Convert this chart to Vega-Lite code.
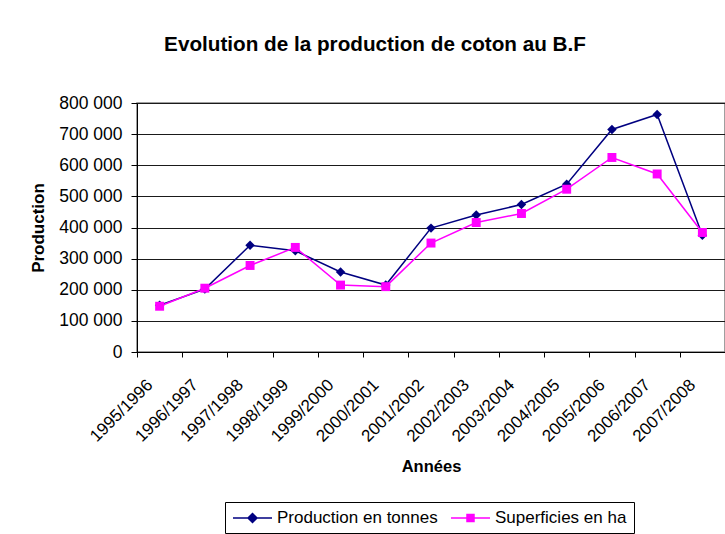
{
  "$schema": "https://vega.github.io/schema/vega-lite/v6.json",
  "autosize": "none",
  "width": 588,
  "height": 249,
  "padding": {"left": 137, "top": 103, "right": 0, "bottom": 182},
  "background": "white",
  "title": {
    "text": "Evolution de la production de coton au B.F",
    "font": "Liberation Sans",
    "fontSize": 20.7,
    "fontWeight": "bold",
    "color": "#000000",
    "anchor": "middle",
    "offset": 38,
    "dx": -56
  },
  "data": {
    "values": [
      {"annee": "1995/1996", "serie": "Production en tonnes", "valeur": 150000},
      {"annee": "1996/1997", "serie": "Production en tonnes", "valeur": 202000},
      {"annee": "1997/1998", "serie": "Production en tonnes", "valeur": 343000},
      {"annee": "1998/1999", "serie": "Production en tonnes", "valeur": 325000},
      {"annee": "1999/2000", "serie": "Production en tonnes", "valeur": 257000},
      {"annee": "2000/2001", "serie": "Production en tonnes", "valeur": 215000},
      {"annee": "2001/2002", "serie": "Production en tonnes", "valeur": 398000},
      {"annee": "2002/2003", "serie": "Production en tonnes", "valeur": 440000},
      {"annee": "2003/2004", "serie": "Production en tonnes", "valeur": 474000},
      {"annee": "2004/2005", "serie": "Production en tonnes", "valeur": 539000},
      {"annee": "2005/2006", "serie": "Production en tonnes", "valeur": 715000},
      {"annee": "2006/2007", "serie": "Production en tonnes", "valeur": 763000},
      {"annee": "2007/2008", "serie": "Production en tonnes", "valeur": 375000},
      {"annee": "1995/1996", "serie": "Superficies en ha", "valeur": 147000},
      {"annee": "1996/1997", "serie": "Superficies en ha", "valeur": 205000},
      {"annee": "1997/1998", "serie": "Superficies en ha", "valeur": 278000},
      {"annee": "1998/1999", "serie": "Superficies en ha", "valeur": 336000},
      {"annee": "1999/2000", "serie": "Superficies en ha", "valeur": 215000},
      {"annee": "2000/2001", "serie": "Superficies en ha", "valeur": 210000},
      {"annee": "2001/2002", "serie": "Superficies en ha", "valeur": 350000},
      {"annee": "2002/2003", "serie": "Superficies en ha", "valeur": 416000},
      {"annee": "2003/2004", "serie": "Superficies en ha", "valeur": 445000},
      {"annee": "2004/2005", "serie": "Superficies en ha", "valeur": 523000},
      {"annee": "2005/2006", "serie": "Superficies en ha", "valeur": 625000},
      {"annee": "2006/2007", "serie": "Superficies en ha", "valeur": 572000},
      {"annee": "2007/2008", "serie": "Superficies en ha", "valeur": 384000}
    ]
  },
  "encoding": {
    "x": {
      "field": "annee",
      "type": "nominal",
      "sort": null,
      "scale": {"type": "band", "paddingInner": 0, "paddingOuter": 0},
      "axis": {
        "title": "Années",
        "titleFont": "Liberation Sans",
        "titleFontSize": 16.5,
        "titleFontWeight": "bold",
        "titleColor": "#000000",
        "titlePadding": 14,
        "labelFont": "Liberation Sans",
        "labelFontSize": 17,
        "labelColor": "#000000",
        "labelAngle": -45,
        "labelAlign": "right",
        "labelBaseline": "middle",
        "labelPadding": 25,
        "labelOffset": -10,
        "tickBand": "extent",
        "tickColor": "#000000",
        "tickSize": 5,
        "domainColor": "#000000",
        "grid": false
      }
    },
    "y": {
      "field": "valeur",
      "type": "quantitative",
      "scale": {"domain": [0, 800000], "nice": false},
      "axis": {
        "title": "Production",
        "titleFont": "Liberation Sans",
        "titleFontSize": 17,
        "titleFontWeight": "bold",
        "titleColor": "#000000",
        "titlePadding": 11,
        "values": [0, 100000, 200000, 300000, 400000, 500000, 600000, 700000, 800000],
        "labelExpr": "replace(format(datum.value, ','), /,/g, ' ')",
        "labelFont": "Liberation Sans",
        "labelFontSize": 17.5,
        "labelColor": "#000000",
        "labelPadding": 9,
        "tickColor": "#000000",
        "tickSize": 6,
        "domainColor": "#000000",
        "grid": true,
        "gridColor": "#1a1a1a",
        "gridWidth": 1
      }
    }
  },
  "layer": [
    {
      "mark": {"type": "line", "strokeWidth": 1.5},
      "encoding": {
        "color": {
          "field": "serie",
          "type": "nominal",
          "scale": {"domain": ["Production en tonnes", "Superficies en ha"], "range": ["#000080", "#FF00FF"]},
          "legend": {
            "title": null,
            "orient": "none",
            "legendX": 88,
            "legendY": 399,
            "direction": "horizontal",
            "strokeColor": "#000000",
            "padding": 7,
            "labelFont": "Liberation Sans",
            "labelFontSize": 17,
            "labelColor": "#000000",
            "labelLimit": 0,
            "labelOffset": 27,
            "columnPadding": 10,
            "symbolSize": 256,
            "symbolStrokeWidth": 1.5,
            "symbolType": {"expr": "datum.value === 'Production en tonnes' ? 'M-1,0H3.875M1.4375,-0.5625L2,0L1.4375,0.5625L0.875,0Z' : 'M-1,0H3.875M1,-0.4375H1.875V0.4375H1Z'"},
            "symbolFillColor": {"expr": "datum.value === 'Production en tonnes' ? '#000080' : '#FF00FF'"}
          }
        }
      }
    },
    {
      "transform": [{"filter": "datum.serie === 'Production en tonnes'"}],
      "mark": {"type": "point", "shape": "diamond", "filled": true, "opacity": 1, "size": 90, "color": "#000080"}
    },
    {
      "transform": [{"filter": "datum.serie === 'Superficies en ha'"}],
      "mark": {"type": "point", "shape": "square", "filled": true, "opacity": 1, "size": 80, "color": "#FF00FF"}
    }
  ],
  "config": {
    "view": {"stroke": "#808080", "strokeWidth": 1.5},
    "font": "Liberation Sans"
  }
}
